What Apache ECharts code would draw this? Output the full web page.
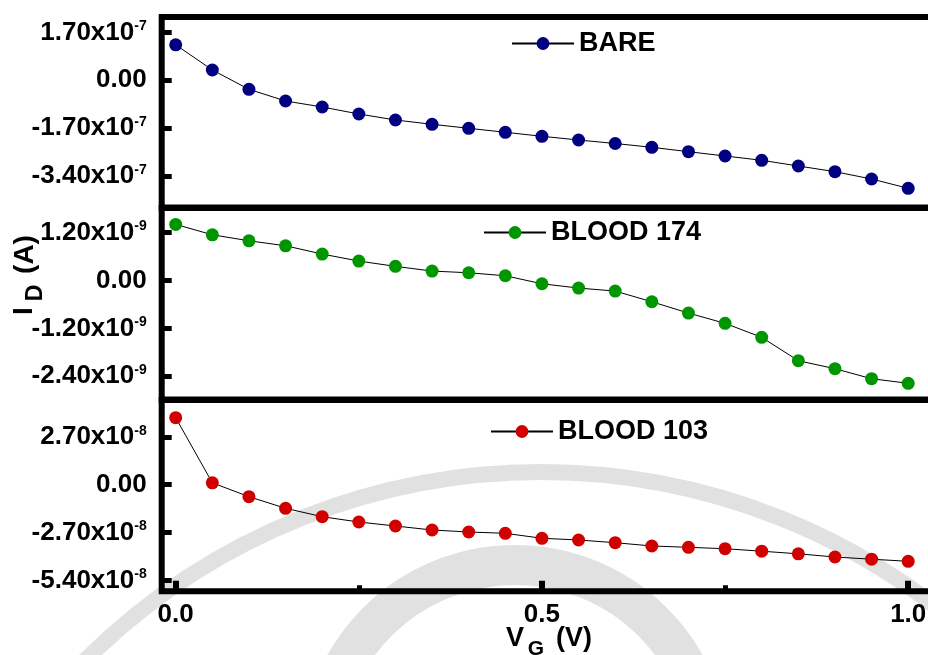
<!DOCTYPE html>
<html>
<head>
<meta charset="utf-8">
<title>I_D vs V_G</title>
<script src="https://cdn.jsdelivr.net/npm/echarts@6/dist/echarts.min.js"></script>
<style>
  html, body { margin: 0; padding: 0; background: #fff; }
  #chart { width: 928px; height: 655px; }
</style>
</head>
<body>
<div id="chart"></div>
<script>
// Gate voltage sweep (V)
const gateVoltage = [0, 0.05, 0.10, 0.15, 0.20, 0.25, 0.30, 0.35, 0.40, 0.45, 0.50,
                     0.55, 0.60, 0.65, 0.70, 0.75, 0.80, 0.85, 0.90, 0.95, 1.00];

// Drain current (A) for each sample
const bareCurrent = [1.26e-7, 3.66e-8, -3.2e-8, -7.35e-8, -9.47e-8, -1.196e-7, -1.409e-7,
                     -1.561e-7, -1.703e-7, -1.845e-7, -1.987e-7, -2.119e-7, -2.243e-7,
                     -2.378e-7, -2.534e-7, -2.686e-7, -2.839e-7, -3.041e-7, -3.243e-7,
                     -3.503e-7, -3.833e-7];
const blood174Current = [1.40e-9, 1.14e-9, 9.9e-10, 8.65e-10, 6.58e-10, 4.83e-10, 3.5e-10,
                         2.33e-10, 1.9e-10, 1.15e-10, -8.5e-11, -1.93e-10, -2.68e-10,
                         -5.35e-10, -8.18e-10, -1.075e-9, -1.425e-9, -2.01e-9, -2.21e-9,
                         -2.46e-9, -2.575e-9];
const blood103Current = [3.777e-8, 1.07e-9, -6.76e-9, -1.33e-8, -1.804e-8, -2.103e-8, -2.328e-8,
                         -2.554e-8, -2.666e-8, -2.74e-8, -3.021e-8, -3.117e-8, -3.269e-8,
                         -3.455e-8, -3.529e-8, -3.608e-8, -3.749e-8, -3.895e-8, -4.076e-8,
                         -4.2e-8, -4.318e-8];

// Axis ticks and their labels ("mantissa^exponent")
const bareTicks = [1.7e-7, 0, -1.7e-7, -3.4e-7];
const bareTickLabels = ['1.70x10^-7', '0.00', '-1.70x10^-7', '-3.40x10^-7'];
const blood174Ticks = [1.2e-9, 0, -1.2e-9, -2.4e-9];
const blood174TickLabels = ['1.20x10^-9', '0.00', '-1.20x10^-9', '-2.40x10^-9'];
const blood103Ticks = [2.7e-8, 0, -2.7e-8, -5.4e-8];
const blood103TickLabels = ['2.70x10^-8', '0.00', '-2.70x10^-8', '-5.40x10^-8'];
const xMajorTicks = [0, 0.5, 1.0];
const xMinorTicks = [0.25, 0.75];

const FONT = "'Liberation Sans', Arial, sans-serif";

const panels = [
  { name: 'BARE', data: bareCurrent, ticks: bareTicks, labels: bareTickLabels,
    color: '#000080', min: -4.514e-7, max: 2.246e-7, top: 17, height: 190.5,
    legendLeft: 504, legendTop: 24 },
  { name: 'BLOOD 174', data: blood174Current, ticks: blood174Ticks, labels: blood174TickLabels,
    color: '#009600', min: -2.98e-9, max: 1.81e-9, top: 208, height: 191.5,
    legendLeft: 476, legendTop: 213 },
  { name: 'BLOOD 103', data: blood103Current, ticks: blood103Ticks, labels: blood103TickLabels,
    color: '#d00000', min: -6.009e-8, max: 4.775e-8, top: 400, height: 191.3,
    legendLeft: 483, legendTop: 412 }
];

function tickFormatter(ticks, labels) {
  return function (value) {
    let best = 0;
    for (let i = 1; i < ticks.length; i++) {
      if (Math.abs(ticks[i] - value) < Math.abs(ticks[best] - value)) best = i;
    }
    const parts = labels[best].split('^');
    return parts.length > 1 ? '{b|' + parts[0] + '}{s|' + parts[1] + '}' : '{b|' + parts[0] + '}';
  };
}

const richLabel = {
  b: { fontFamily: FONT, fontWeight: 'bold', fontSize: 26, lineHeight: 26, color: '#000' },
  s: { fontFamily: FONT, fontWeight: 'bold', fontSize: 14, lineHeight: 10, verticalAlign: 'top', color: '#000' }
};

const xMin = -0.0191, xMax = 1.043;

const grid = [], xAxis = [], yAxis = [], series = [], legend = [];
panels.forEach(function (p, k) {
  grid.push({
    left: 161.7, width: 778, top: p.top, height: p.height,
    containLabel: false, outerBoundsMode: 'none',
    show: true, borderColor: '#000', borderWidth: 6, backgroundColor: 'transparent'
  });
  const isBottom = k === panels.length - 1;
  xAxis.push({
    type: 'value', gridIndex: k, min: xMin, max: xMax, position: 'bottom',
    axisLine: { show: false, onZero: false },
    splitLine: { show: false },
    axisTick: { show: isBottom, inside: true, length: 10.5, customValues: xMajorTicks,
                lineStyle: { color: '#000', width: 6 } },
    axisLabel: { show: isBottom, customValues: xMajorTicks, margin: 11,
                 fontFamily: FONT, fontWeight: 'bold', fontSize: 26, color: '#000',
                 formatter: function (v) { return v.toFixed(1); } }
  });
  yAxis.push({
    type: 'value', gridIndex: k, min: p.min, max: p.max, position: 'left',
    axisLine: { show: false, onZero: false },
    splitLine: { show: false },
    axisTick: { show: true, inside: true, length: 10, customValues: p.ticks,
                lineStyle: { color: '#000', width: 5 } },
    axisLabel: { customValues: p.ticks, margin: 15, formatter: tickFormatter(p.ticks, p.labels),
                 rich: richLabel }
  });
  series.push({
    name: p.name, type: 'line', xAxisIndex: k, yAxisIndex: k,
    data: gateVoltage.map(function (v, i) { return [v, p.data[i]]; }),
    symbol: 'circle', symbolSize: 13,
    itemStyle: { color: p.color },
    lineStyle: { color: '#000', width: 1 },
    z: 3
  });
  legend.push({
    data: [p.name], left: p.legendLeft, top: p.legendTop, orient: 'horizontal',
    itemWidth: 62, itemHeight: 16, padding: [6, 8, 6, 7],
    backgroundColor: '#fff', selectedMode: false,
    textStyle: { fontFamily: FONT, fontWeight: 'bold', fontSize: 27, color: '#000' }
  });
});

// minor ticks on the bottom axis
xAxis.push({
  type: 'value', gridIndex: 2, min: xMin, max: xMax, position: 'bottom',
  axisLine: { show: false, onZero: false }, splitLine: { show: false },
  axisTick: { show: true, inside: true, length: 6, customValues: xMinorTicks,
              lineStyle: { color: '#000', width: 5 } },
  axisLabel: { show: false }
});

const titleStyle = { fontFamily: FONT, fontWeight: 'bold', fill: '#000' };
function txt(text, x, y, size, rot, align) {
  return {
    type: 'text', x: x, y: y, rotation: rot || 0, z: 10,
    style: Object.assign({ text: text, fontSize: size, textAlign: align || 'center',
                           textVerticalAlign: 'middle' }, titleStyle)
  };
}

const option = {
  animation: false,
  backgroundColor: '#fff',
  grid: grid, xAxis: xAxis, yAxis: yAxis, series: series, legend: legend,
  graphic: [
    // faint seal in the background
    { type: 'arc', z: -10, silent: true,
      shape: { cx: 541, cy: 1118, r: 646, startAngle: 0, endAngle: Math.PI * 2 },
      style: { stroke: '#e1e1e1', lineWidth: 16, fill: null } },
    { type: 'arc', z: -10, silent: true,
      shape: { cx: 515, cy: 760, r: 195, startAngle: 0, endAngle: Math.PI * 2 },
      style: { stroke: '#e1e1e1', lineWidth: 40, fill: null } },
    // axis titles
    txt('V', 515, 639, 27),
    txt('G', 536, 649, 21),
    txt('(V)', 574, 639, 27),
    txt('I', 24.5, 311, 28, Math.PI / 2),
    txt('D', 36, 293, 23, Math.PI / 2),
    txt('(A)', 25, 254.5, 28, Math.PI / 2)
  ]
};

const chart = echarts.init(document.getElementById('chart'), null, { renderer: 'canvas' });
chart.setOption(option);
</script>
</body>
</html>
